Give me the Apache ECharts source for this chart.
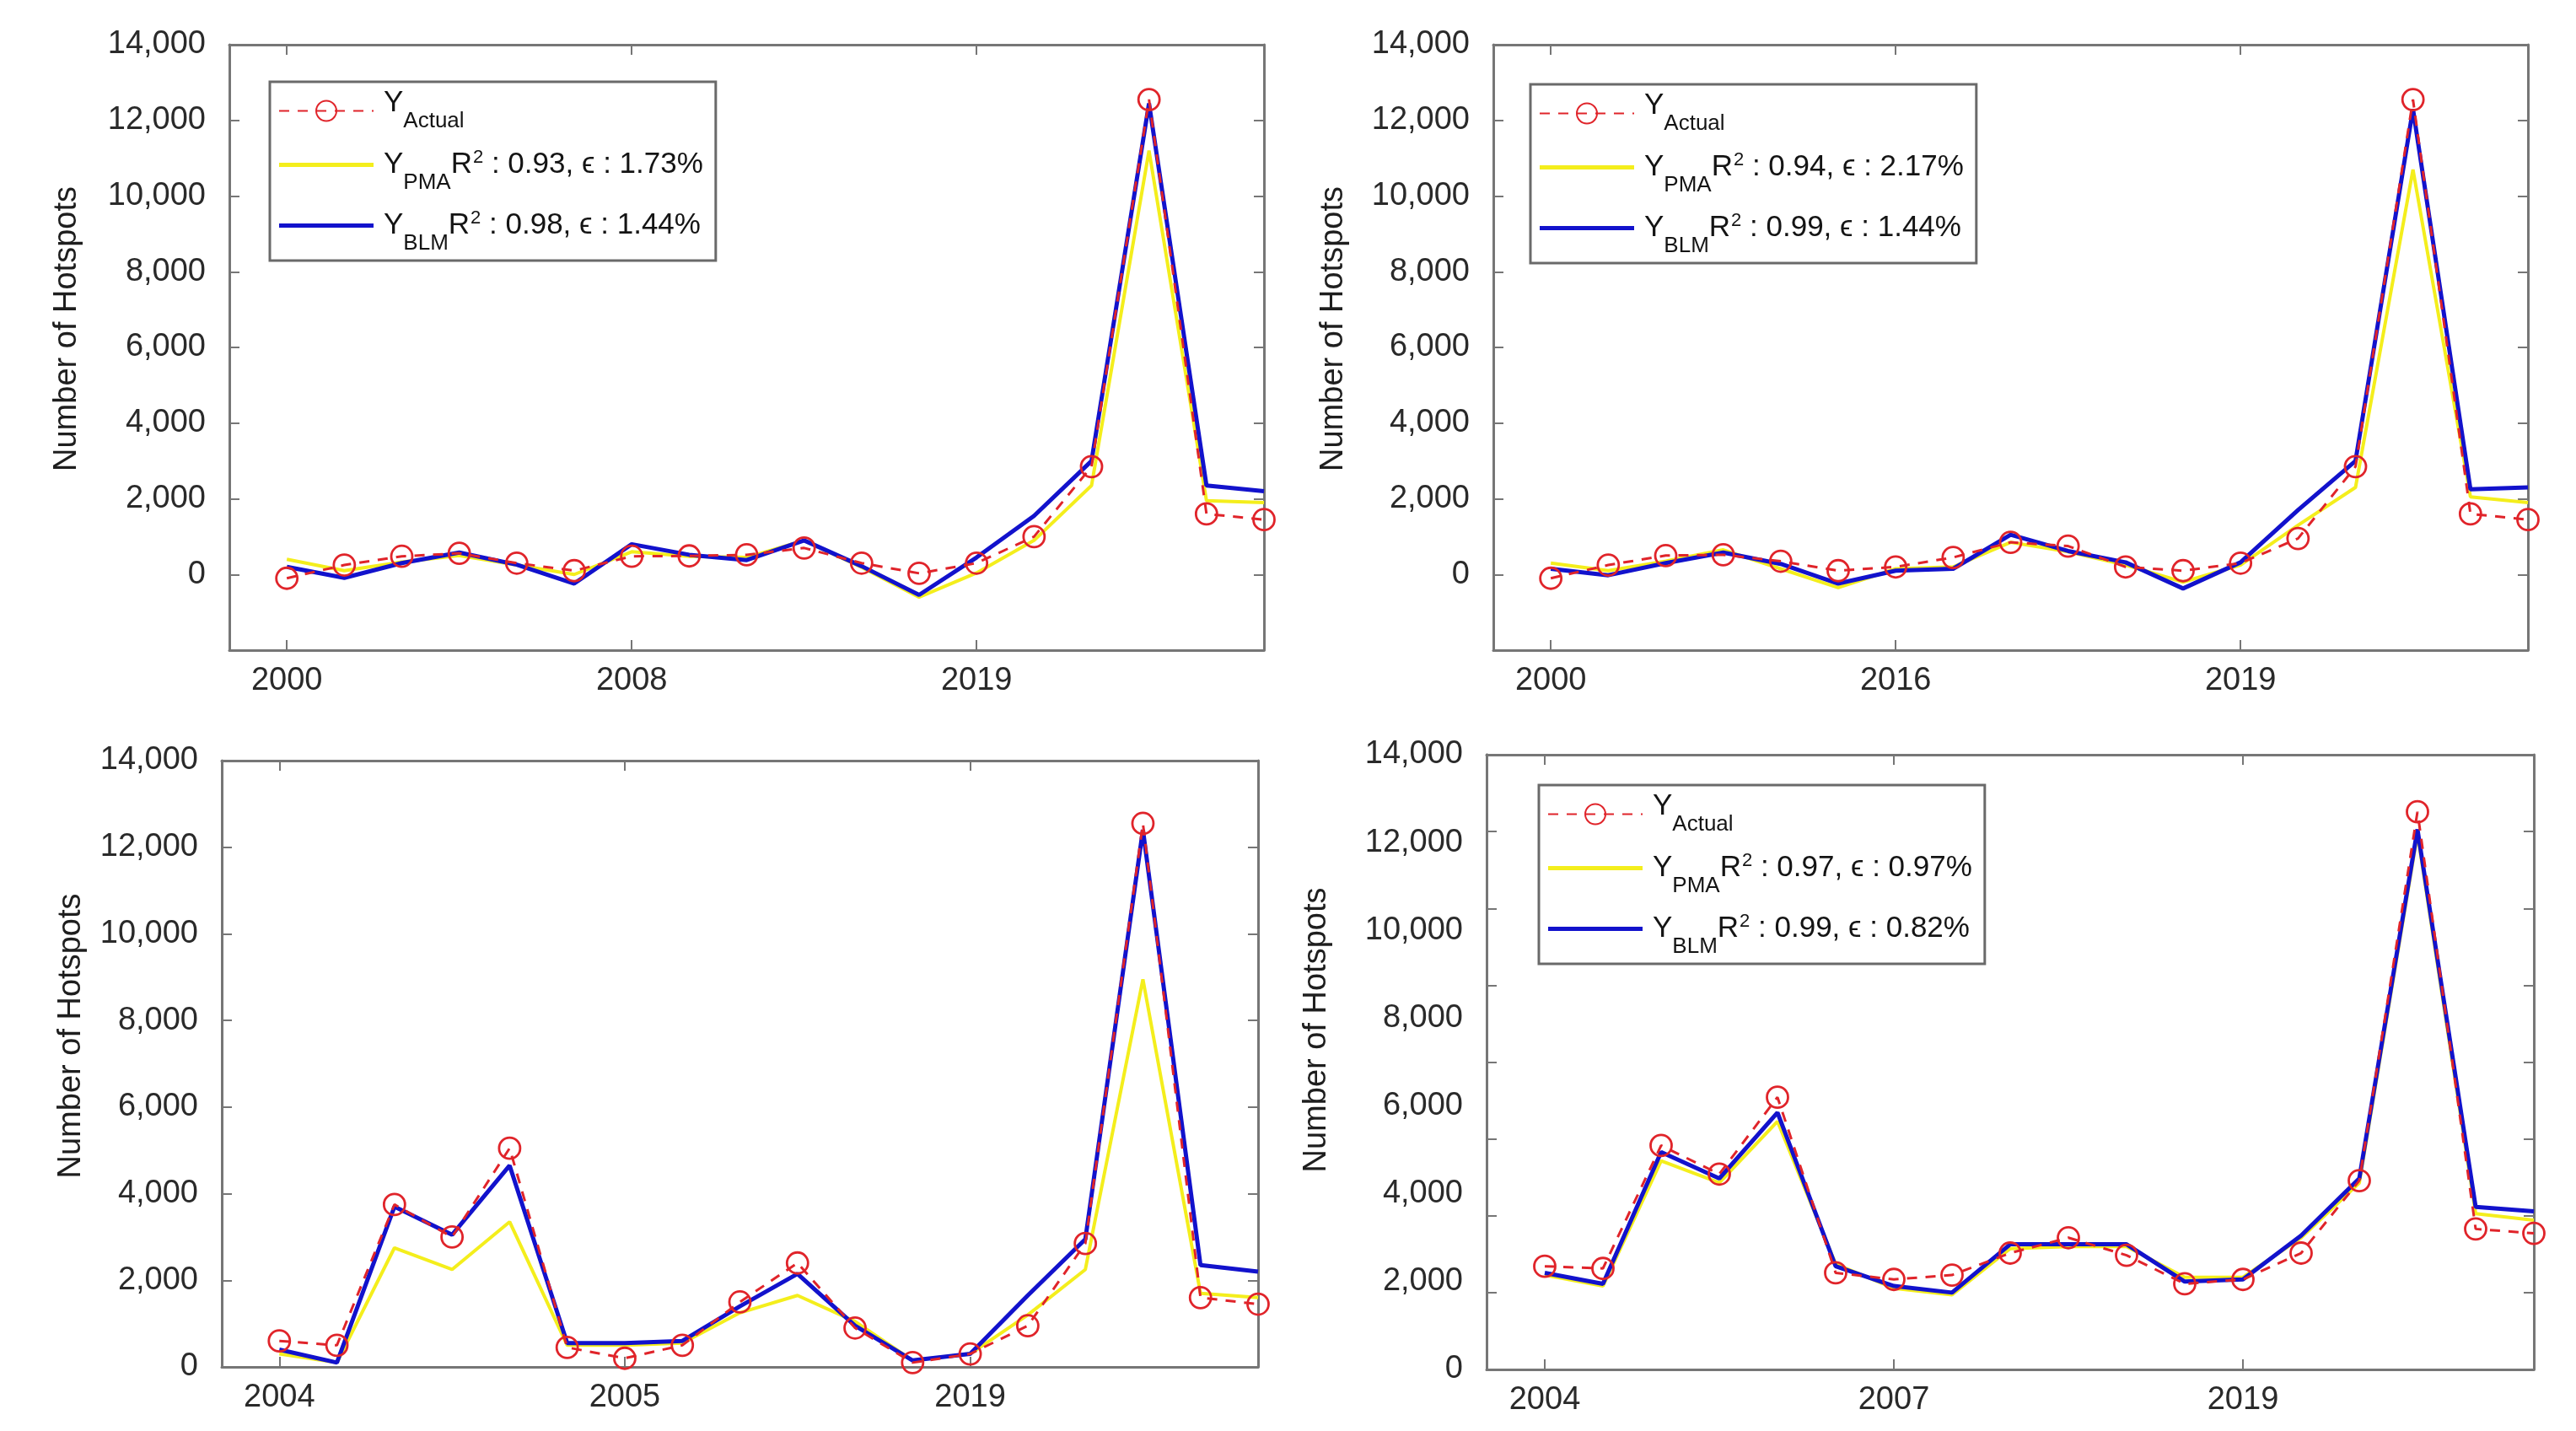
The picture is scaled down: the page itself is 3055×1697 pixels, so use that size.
<!DOCTYPE html>
<html><head><meta charset="utf-8">
<script src="https://cdn.jsdelivr.net/npm/echarts@6/dist/echarts.min.js"></script>
<style>html,body{margin:0;padding:0;background:#fff}#c{width:3055px;height:1697px}</style>
</head><body><div id="c"></div>
<script>
// ---------- data ----------
const xLabelsA = ['2000', '2008', '2019'];
const xLabelsB = ['2000', '2016', '2019'];
const xLabelsC = ['2004', '2005', '2019'];
const xLabelsD = ['2004', '2007', '2019'];
const xTickIdx = [0, 6, 12];
const yTickVals = [0, 2000, 4000, 6000, 8000, 10000, 12000, 14000];

const actualA = [-100, 250, 480, 560, 300, 100, 480, 490, 520, 700, 300, 30, 300, 1000, 2850, 12550, 1600, 1450];
const pmaA    = [400, 100, 330, 500, 250, 0, 600, 480, 450, 900, 190, -600, 40, 900, 2350, 11200, 1950, 1900];
const blmA    = [200, -90, 300, 580, 260, -240, 800, 520, 380, 900, 220, -540, 450, 1550, 3000, 12450, 2350, 2200];

const actualB = [-100, 250, 500, 520, 350, 100, 200, 450, 850, 750, 200, 100, 300, 950, 2850, 12550, 1600, 1450];
const pmaB    = [300, 100, 350, 650, 150, -350, 150, 200, 850, 600, 250, -200, 250, 1300, 2300, 10700, 2050, 1900];
const blmB    = [150, -20, 300, 580, 280, -240, 100, 150, 1050, 620, 320, -370, 320, 1700, 3000, 12300, 2250, 2300];

const actualC = [600, 500, 3750, 3000, 5050, 450, 200, 500, 1500, 2400, 900, 100, 300, 950, 2850, 12550, 1600, 1450];
const pmaC    = [300, 100, 2750, 2250, 3350, 500, 500, 550, 1250, 1650, 1050, 150, 300, 1200, 2250, 8950, 1700, 1600];
const blmC    = [400, 100, 3700, 3050, 4650, 550, 550, 600, 1400, 2150, 950, 150, 300, 1650, 2950, 12400, 2350, 2200];

const actualD = [2350, 2300, 5100, 4450, 6200, 2200, 2050, 2150, 2650, 3000, 2600, 1950, 2050, 2650, 4300, 12700, 3200, 3100];
const pmaD    = [2150, 1900, 4750, 4250, 5650, 2400, 1850, 1700, 2750, 2800, 2800, 2100, 2100, 3000, 4250, 12200, 3550, 3400];
const blmD    = [2200, 1950, 4950, 4350, 5850, 2350, 1900, 1750, 2850, 2850, 2850, 2000, 2050, 3050, 4350, 12300, 3700, 3600];

const fitPmaA = ['0.93', '1.73%'], fitBlmA = ['0.98', '1.44%'];
const fitPmaB = ['0.94', '2.17%'], fitBlmB = ['0.99', '1.44%'];
const fitPmaD = ['0.97', '0.97%'], fitBlmD = ['0.99', '0.82%'];

const yTitle = 'Number of Hotspots';

// ---------- styles ----------
const FONT = "'Liberation Sans', Arial, Helvetica, sans-serif";
const GRAY = '#767676';
const TXT = '#2a2a2a';
const RED = '#e0242a', YEL = '#f4ee1c', BLU = '#1212cc';
const LINE_ICON = 'path://M0 0H112V5H0Z';

const fmt = v => String(v).replace(/\B(?=(\d{3})+(?!\d))/g, ',');

const panels = [
  {key: 'A', grid: {left: 272, top: 53, width: 1227, height: 718}, ymin: -2000, xl: xLabelsA,
   act: actualA, pma: pmaA, blm: blmA, nameGap: 173, namePad: 44,
   legend: {left: 320, top: 97}, fp: fitPmaA, fb: fitBlmA},
  {key: 'B', grid: {left: 1771, top: 53, width: 1227, height: 718}, ymin: -2000, xl: xLabelsB,
   act: actualB, pma: pmaB, blm: blmB, nameGap: 170, namePad: 44,
   legend: {left: 1815, top: 100}, fp: fitPmaB, fb: fitBlmB},
  {key: 'C', grid: {left: 263, top: 902, width: 1229, height: 719}, ymin: 0, xl: xLabelsC,
   act: actualC, pma: pmaC, blm: blmC, nameGap: 159, namePad: 66, legend: null},
  {key: 'D', grid: {left: 1763, top: 895, width: 1242, height: 729}, ymin: 0, xl: xLabelsD,
   act: actualD, pma: pmaD, blm: blmD, nameGap: 182, namePad: 76, shiftedLabels: true,
   legend: {left: 1825, top: 931}, fp: fitPmaD, fb: fitBlmD}
];

const grids = [], xAxes = [], yAxes = [], series = [], legends = [];
const richStyles = {
  ya: {fontSize: 35, lineHeight: 38, padding: [0, 0, 18, 7], verticalAlign: 'middle'},
  sa: {fontSize: 26, lineHeight: 38, padding: [25, 0, 0, 0], verticalAlign: 'middle'},
  y:  {fontSize: 35, lineHeight: 56, padding: [0, 0, 0, 7], verticalAlign: 'middle'},
  s:  {fontSize: 26, lineHeight: 56, padding: [43, 0, 0, 0], verticalAlign: 'middle'},
  r:  {fontSize: 35, lineHeight: 56, verticalAlign: 'middle'},
  p:  {fontSize: 22, lineHeight: 56, padding: [0, 0, 17, 1], verticalAlign: 'middle'},
  t:  {fontSize: 35, lineHeight: 56, verticalAlign: 'middle'}
};

panels.forEach((p, i) => {
  grids.push(Object.assign({containLabel: false}, p.grid));
  const xBase = xAxes.length;
  const xCommon = {
    type: 'value', gridIndex: i, min: -1, max: 17,
    axisLine: {show: true, onZero: false, lineStyle: {color: GRAY, width: 3}},
    axisTick: {show: true, inside: true, length: 12, customValues: xTickIdx, lineStyle: {color: GRAY, width: 2}},
    splitLine: {show: false}
  };
  xAxes.push(Object.assign({}, xCommon, {
    position: 'bottom',
    axisLabel: {show: true, customValues: xTickIdx, formatter: v => p.xl[xTickIdx.indexOf(Math.round(v))],
      fontSize: 38, color: TXT, fontFamily: FONT, margin: 18}
  }));
  xAxes.push(Object.assign({}, xCommon, {position: 'top', axisLabel: {show: false}}));

  const yBase = yAxes.length;
  const tickAxis = (pos, min) => ({
    type: 'value', gridIndex: i, min: min, max: 14000, interval: 2000, position: pos,
    axisLine: {show: true, onZero: false, lineStyle: {color: GRAY, width: 3}},
    axisTick: {show: true, inside: true, length: 12, lineStyle: {color: GRAY, width: 2}},
    axisLabel: {show: false}, splitLine: {show: false}
  });
  const nameCfg = {
    name: yTitle, nameLocation: 'middle', nameGap: p.nameGap,
    nameTextStyle: {fontSize: 38, color: '#1e1e1e', fontFamily: FONT, padding: [0, 0, 0, p.namePad]}
  };
  if (!p.shiftedLabels) {
    yAxes.push(Object.assign(tickAxis('left', p.ymin), nameCfg, {
      axisLabel: {show: true, customValues: yTickVals, formatter: v => fmt(v),
        fontSize: 38, color: TXT, fontFamily: FONT, margin: 28}
    }));
    yAxes.push(tickAxis('right', p.ymin));
  } else {
    // labelled axis (data axis): labels only
    yAxes.push(Object.assign({
      type: 'value', gridIndex: i, min: 0, max: 14000, interval: 2000, position: 'left',
      axisLine: {show: true, onZero: false, lineStyle: {color: GRAY, width: 3}},
      axisTick: {show: false}, splitLine: {show: false},
      axisLabel: {show: true, customValues: yTickVals, formatter: v => fmt(v),
        fontSize: 38, color: TXT, fontFamily: FONT, margin: 28, padding: [0, 0, 20, 0]}
    }, nameCfg));
    yAxes.push(tickAxis('right', -2000));
    yAxes.push(tickAxis('left', -2000));
  }

  const toPts = arr => arr.map((v, j) => [j, v]);
  series.push({
    type: 'line', name: 'PMA ' + p.key, xAxisIndex: xBase, yAxisIndex: yBase, data: toPts(p.pma),
    symbol: 'none', showSymbol: false, lineStyle: {color: YEL, width: 4}, itemStyle: {color: YEL}, z: 3
  });
  series.push({
    type: 'line', name: 'BLM ' + p.key, xAxisIndex: xBase, yAxisIndex: yBase, data: toPts(p.blm),
    symbol: 'none', showSymbol: false, lineStyle: {color: BLU, width: 5}, itemStyle: {color: BLU}, z: 4
  });
  series.push({
    type: 'line', name: 'Actual ' + p.key, xAxisIndex: xBase, yAxisIndex: yBase, data: toPts(p.act),
    symbol: 'circle', symbolSize: 25, showSymbol: true,
    itemStyle: {color: 'rgba(255,255,255,0)', borderColor: RED, borderWidth: 2.8},
    lineStyle: {color: RED, width: 3, type: [12, 10]}, z: 5
  });

  if (p.legend) {
    const texts = {};
    texts['Actual ' + p.key] = '{ya|Y}{sa|Actual}';
    texts['PMA ' + p.key] = '{y|Y}{s|PMA}{r|R}{p|2}{t| : ' + p.fp[0] + ', \u03f5 : ' + p.fp[1] + '}';
    texts['BLM ' + p.key] = '{y|Y}{s|BLM}{r|R}{p|2}{t| : ' + p.fb[0] + ', \u03f5 : ' + p.fb[1] + '}';
    legends.push({
      left: p.legend.left, top: p.legend.top, orient: 'vertical',
      itemWidth: 112, itemHeight: 30, itemGap: 3, padding: [8, 15, 7, 10],
      borderColor: '#6a6a6a', borderWidth: 3, backgroundColor: '#ffffff', selectedMode: false,
      data: [{name: 'Actual ' + p.key}, {name: 'PMA ' + p.key, icon: LINE_ICON}, {name: 'BLM ' + p.key, icon: LINE_ICON}],
      formatter: n => texts[n],
      textStyle: {fontFamily: FONT, fontSize: 35, color: '#141414', rich: richStyles}
    });
  }
});

const chart = echarts.init(document.getElementById('c'), null, {renderer: 'canvas'});
chart.setOption({
  animation: false,
  backgroundColor: '#ffffff',
  textStyle: {fontFamily: FONT},
  grid: grids, xAxis: xAxes, yAxis: yAxes, series: series, legend: legends
});
</script>
</body></html>
